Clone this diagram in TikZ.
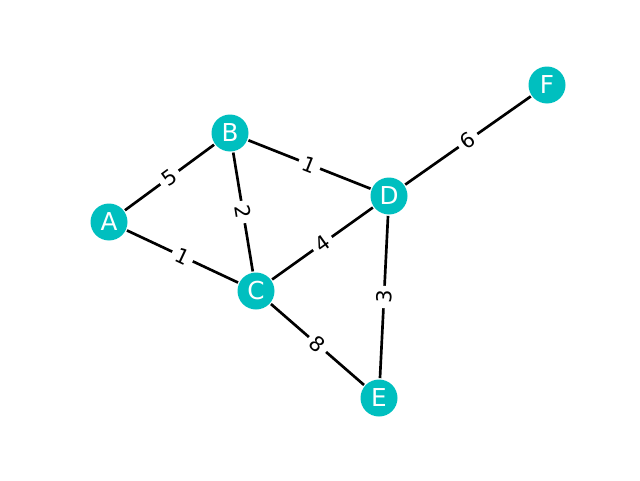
\documentclass[tikz,border=0pt]{standalone}
\usepackage{fontspec}
\setmainfont{DejaVu Sans}
\definecolor{nodecyan}{RGB}{0,191,191}

\tikzset{every picture/.style={line width=2pt}}
\tikzset{
  vertex/.style={circle, fill=nodecyan, minimum size=27.75pt, inner sep=0pt, text=white, font=\fontsize{18.5}{20}\selectfont},
  weight/.style={midway, sloped, fill=white, inner sep=3.5pt, rounded corners=3pt, font=\fontsize{15.5}{17}\selectfont}
}

\begin{document}
\begin{tikzpicture}[x=0.75pt,y=0.75pt]
  \path[use as bounding box] (0,0) rectangle (640,480);

  % Nodes
  \node[vertex] (A) at (109,258) {A};
  \node[vertex] (B) at (230,347) {B};
  \node[vertex] (C) at (256,189) {C};
  \node[vertex] (D) at (389,284) {D};
  \node[vertex] (E) at (379,82) {E};
  \node[vertex] (F) at (547,395) {F};

  % Weighted edges
  \draw (A) -- node[weight] {5} (B);
  \draw (A) -- node[weight] {1} (C);
  \draw (B) -- node[weight] {2} (C);
  \draw (B) -- node[weight] {1} (D);
  \draw (C) -- node[weight] {4} (D);
  \draw (C) -- node[weight] {8} (E);
  \draw (D) -- node[weight] {3} (E);
  \draw (D) -- node[weight] {6} (F);
\end{tikzpicture}
\end{document}
